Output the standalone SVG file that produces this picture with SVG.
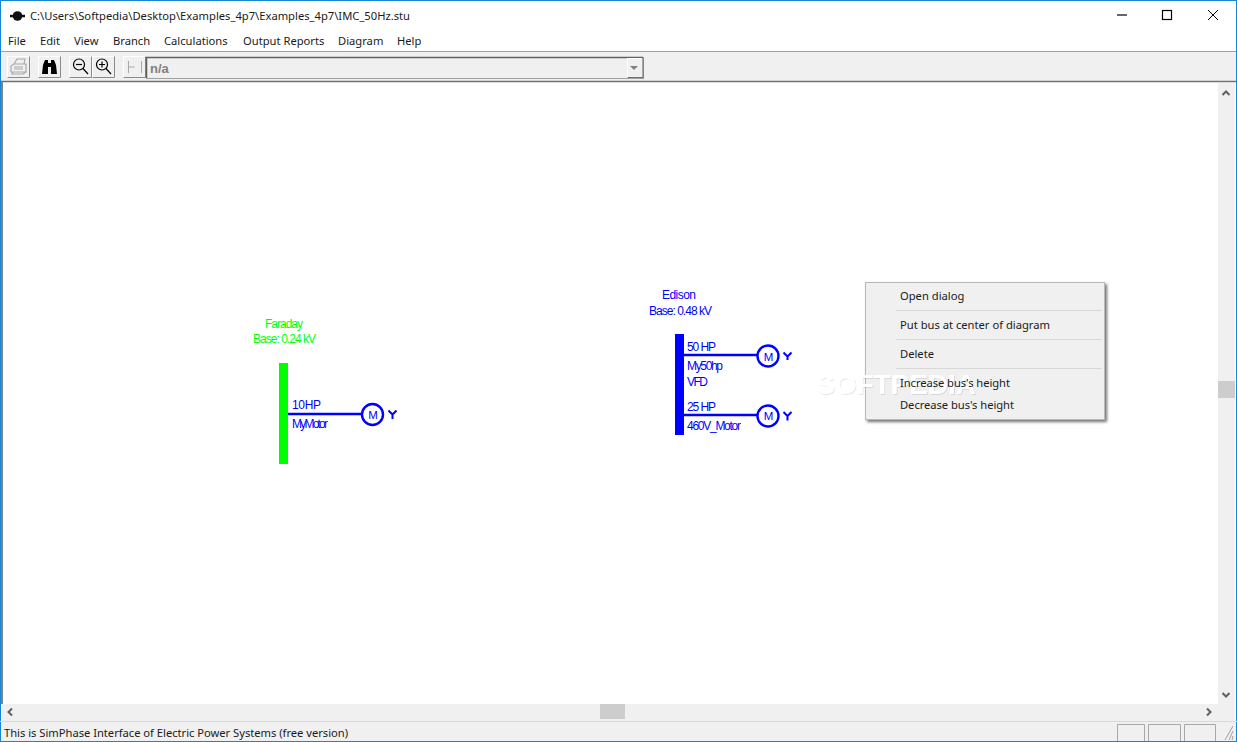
<svg xmlns="http://www.w3.org/2000/svg" width="1237" height="742" viewBox="0 0 1237 742">
<defs>
<style>
text{font-family:"Noto Sans","Liberation Sans",sans-serif;font-size:12px;fill:#000}
.ui{font-family:"Noto Sans","Liberation Sans",sans-serif;font-size:11.2px;fill:#1a1a1a}
.lab{font-family:"Liberation Sans",Arial,sans-serif;font-size:12px}
.b{fill:#0000ff}.g{fill:#00ff00}
.wire{stroke:#0000ff;stroke-width:2.4;fill:none}
.mot{stroke:#0000ff;stroke-width:2.400;fill:#fff}
.y{stroke:#0000ff;stroke-width:2;fill:none}
.sep{stroke:#d8d8d8;stroke-width:1}
.btn{fill:#f0f0f0;stroke:#fff;stroke-width:1}
.btn2{fill:none;stroke:#8a8a8a;stroke-width:1}
.ic{fill:none;stroke:#000;stroke-width:1.2}
.ar{fill:none;stroke:#606060;stroke-width:2}
.cell{fill:none;stroke:#a8a8a8;stroke-width:1}
.wm{font-family:"Liberation Sans",sans-serif;font-weight:700;font-size:28px;fill:#fff}
</style>
<filter id="sh" x="-5%" y="-5%" width="112%" height="115%"><feDropShadow dx="2" dy="2" stdDeviation="1.5" flood-color="#000" flood-opacity=".55"/></filter>
<filter id="wmsh" x="-5%" y="-10%" width="110%" height="125%"><feDropShadow dx="1" dy="1" stdDeviation=".6" flood-color="#000" flood-opacity=".1"/></filter>
</defs>
<rect width="1237" height="742" fill="#fff"/>
<g id="toolbar">
<rect x="0" y="51" width="1237" height="31" fill="#f0f0f0"/>
<line x1="0" x2="1237" y1="51.500" y2="51.500" stroke="#a0a0a0"/>
<line x1="0" x2="1237" y1="81.500" y2="81.500" stroke="#707070" stroke-width="1.500"/>
<rect class="btn" x="7.500" y="56.500" width="22" height="21"/><path class="btn2" d="M7.500 77.500h22v-21"/>
<rect class="btn" x="38.500" y="56.500" width="22" height="21"/><path class="btn2" d="M38.500 77.500h22v-21"/>
<rect class="btn" x="69.500" y="56.500" width="22" height="21"/><path class="btn2" d="M69.500 77.500h22v-21"/>
<rect class="btn" x="92.500" y="56.500" width="22" height="21"/><path class="btn2" d="M92.500 77.500h22v-21"/>
<rect class="btn" x="123.500" y="56.500" width="22" height="21"/><path class="btn2" d="M123.500 77.500h22v-21"/>
<g fill="none" stroke="#a8a8a8" stroke-width="1.200"><path d="M11 72V66l3-2h12v8zM14 64l3-5h8l-1 5M13 72l-1 2h11l3-2"/><path d="M14 67h9M14 69h9"/></g>
<g fill="#000"><path d="M42 74l1-9 2-5h3v14zM57 74l-1-9-2-5h-3v14z"/><rect x="48" y="63" width="3" height="4"/></g>
<circle class="ic" cx="79" cy="64.500" r="5.500"/><path class="ic" d="M83 68.500 88 74" stroke-width="1.800"/><path class="ic" d="M76 64.500h6"/>
<circle class="ic" cx="102" cy="64.500" r="5.500"/><path class="ic" d="M106 68.500 111 74" stroke-width="1.800"/><path class="ic" d="M99 64.500h6M102 61.500v6"/>
<path d="M128.500 61v12M128.500 67h6M141.500 61v12" fill="none" stroke="#a8a8a8"/>
<rect x="146.500" y="57.500" width="497" height="21" fill="#f0f0f0" stroke="#a0a0a0"/>
<path d="M146.500 78V57.500H643" fill="none" stroke="#606060" stroke-width="1.500"/>
<rect x="627.500" y="58.500" width="15" height="19" fill="#f0f0f0" stroke="#fff"/>
<path d="M627.500 77.500H643V58" fill="none" stroke="#707070" stroke-width="1.200"/>
<path d="M630 66h8l-4 4z" fill="#808080"/>
<text x="150" y="73" font-weight="700" style="font-family:'Liberation Sans',sans-serif;font-size:13px;fill:#808080">n/a</text>
</g>
<g id="window-frame">
<circle cx="17.500" cy="16" r="4.800" fill="#111"/><rect x="10" y="14.800" width="15" height="2.500" fill="#111"/>
<text class="ui" x="30" y="20" textLength="380">C:\Users\Softpedia\Desktop\Examples_4p7\Examples_4p7\IMC_50Hz.stu</text>
<path d="M1117 15h10" stroke="#000" stroke-width="1.200"/><rect x="1162.500" y="10.500" width="9" height="9" fill="none" stroke="#000" stroke-width="1.200"/><path d="M1208 10l10 10M1218 10l-10 10" stroke="#000"/>
<rect x="0.500" y="0.500" width="1236" height="741" fill="none" stroke="#1585d8"/>
<path d="M2 82v622" stroke="#808080" stroke-width="2"/>
</g>
<g id="menu">
<text class="ui" x="8" y="45">File</text><text class="ui" x="40" y="45">Edit</text><text class="ui" x="74" y="45">View</text><text class="ui" x="113" y="45">Branch</text><text class="ui" x="164" y="45">Calculations</text><text class="ui" x="243" y="45">Output Reports</text><text class="ui" x="338" y="45">Diagram</text><text class="ui" x="397" y="45">Help</text>
</g>
<g id="connectors">
<path class="wire" d="M288 414H361M684 355H757M684 415H757"/>
<path class="y" d="M388.500 410.500 392.500 414.500 396.500 410.500M392.500 414.500V419"/>
<path class="y" d="M783.500 352.500 787.500 356.500 791.500 352.500M787.500 356.500V360"/>
<path class="y" d="M783.500 412 787.500 416 791.500 412M787.500 416V420.500"/>
</g>
<g id="bus-faraday">
<rect class="g" x="279" y="363" width="9" height="101"/>
<text class="lab g" x="265" y="328" textLength="38">Faraday</text>
<text class="lab g" x="253" y="343" textLength="63">Base: 0.24 kV</text>
</g>
<g id="motor-10hp">
<circle class="mot" cx="372.500" cy="414.500" r="10.500"/>
<text class="lab b" x="373" y="419" text-anchor="middle" style="font-size:11.500px">M</text>
<text class="lab b" x="292" y="409" textLength="29">10HP</text>
<text class="lab b" x="292" y="428" textLength="36">MyMotor</text>
</g>
<g id="bus-edison">
<rect class="b" x="675" y="334" width="9" height="101"/>
<text class="lab b" x="662" y="299" textLength="34">Edison</text>
<text class="lab b" x="649" y="315" textLength="63">Base: 0.48 kV</text>
</g>
<g id="motor-50hp">
<circle class="mot" cx="768" cy="356" r="10.500"/>
<text class="lab b" x="768.500" y="361" text-anchor="middle" style="font-size:11.500px">M</text>
<text class="lab b" x="687" y="351" textLength="29">50 HP</text>
<text class="lab b" x="687" y="370" textLength="36">My50hp</text>
<text class="lab b" x="687" y="386" textLength="21">VFD</text>
</g>
<g id="motor-25hp">
<circle class="mot" cx="768" cy="416" r="10.500"/>
<text class="lab b" x="768.500" y="420" text-anchor="middle" style="font-size:11.500px">M</text>
<text class="lab b" x="687" y="411" textLength="29">25 HP</text>
<text class="lab b" x="687" y="430" textLength="54">460V_Motor</text>
</g>
<g id="scrollbars">
<rect x="1218" y="83" width="17" height="621" fill="#f0f0f0"/>
<rect x="2" y="704" width="1216" height="17" fill="#f0f0f0"/>
<rect x="1218" y="704" width="17" height="17" fill="#f0f0f0"/>
<rect x="1218" y="381" width="17" height="17" fill="#cdcdcd"/>
<rect x="600" y="704" width="25" height="15" fill="#cdcdcd"/>
<path class="ar" d="M1222.500 95l3.500-3.500 3.500 3.500M1222.500 693l3.500 3.500 3.500-3.500M12 708.500l-3.500 3.500 3.500 3.500M1207 708.500l3.500 3.500-3.500 3.500"/>
</g>
<g id="statusbar">
<rect x="1" y="721" width="1235" height="20" fill="#f0f0f0"/>
<line x1="0" x2="1237" y1="721.500" y2="721.500" stroke="#d8d8d8"/>
<text class="ui" x="4" y="737" textLength="344">This is SimPhase Interface of Electric Power Systems (free version)</text>
<path class="cell" d="M1117.500 741v-16.500h27V741M1148.500 741v-16.500h32V741M1184.500 741v-16.500h31V741"/>
<path d="M1233 726l-8 14M1233 731l-4 9M1233 736l-1 4" stroke="#a0a0a0"/>
</g>
<g id="context-menu">
<rect x="865.500" y="282.500" width="239" height="137" fill="#f0f0f0" stroke="#b8b8b8" filter="url(#sh)"/>
<text class="wm" x="816" y="394" textLength="160" filter="url(#wmsh)">SOFTPEDIA</text>
<text class="ui" x="900" y="299.500">Open dialog</text>
<line class="sep" x1="896" x2="1102" y1="310.500" y2="310.500"/>
<text class="ui" x="900" y="328.500" textLength="150">Put bus at center of diagram</text>
<line class="sep" x1="896" x2="1102" y1="339.500" y2="339.500"/>
<text class="ui" x="900" y="357.500">Delete</text>
<line class="sep" x1="896" x2="1102" y1="368.500" y2="368.500"/>
<text class="ui" x="900" y="386.500" textLength="110">Increase bus's height</text>
<text class="ui" x="900" y="408.500" textLength="114">Decrease bus's height</text>
</g>
</svg>
